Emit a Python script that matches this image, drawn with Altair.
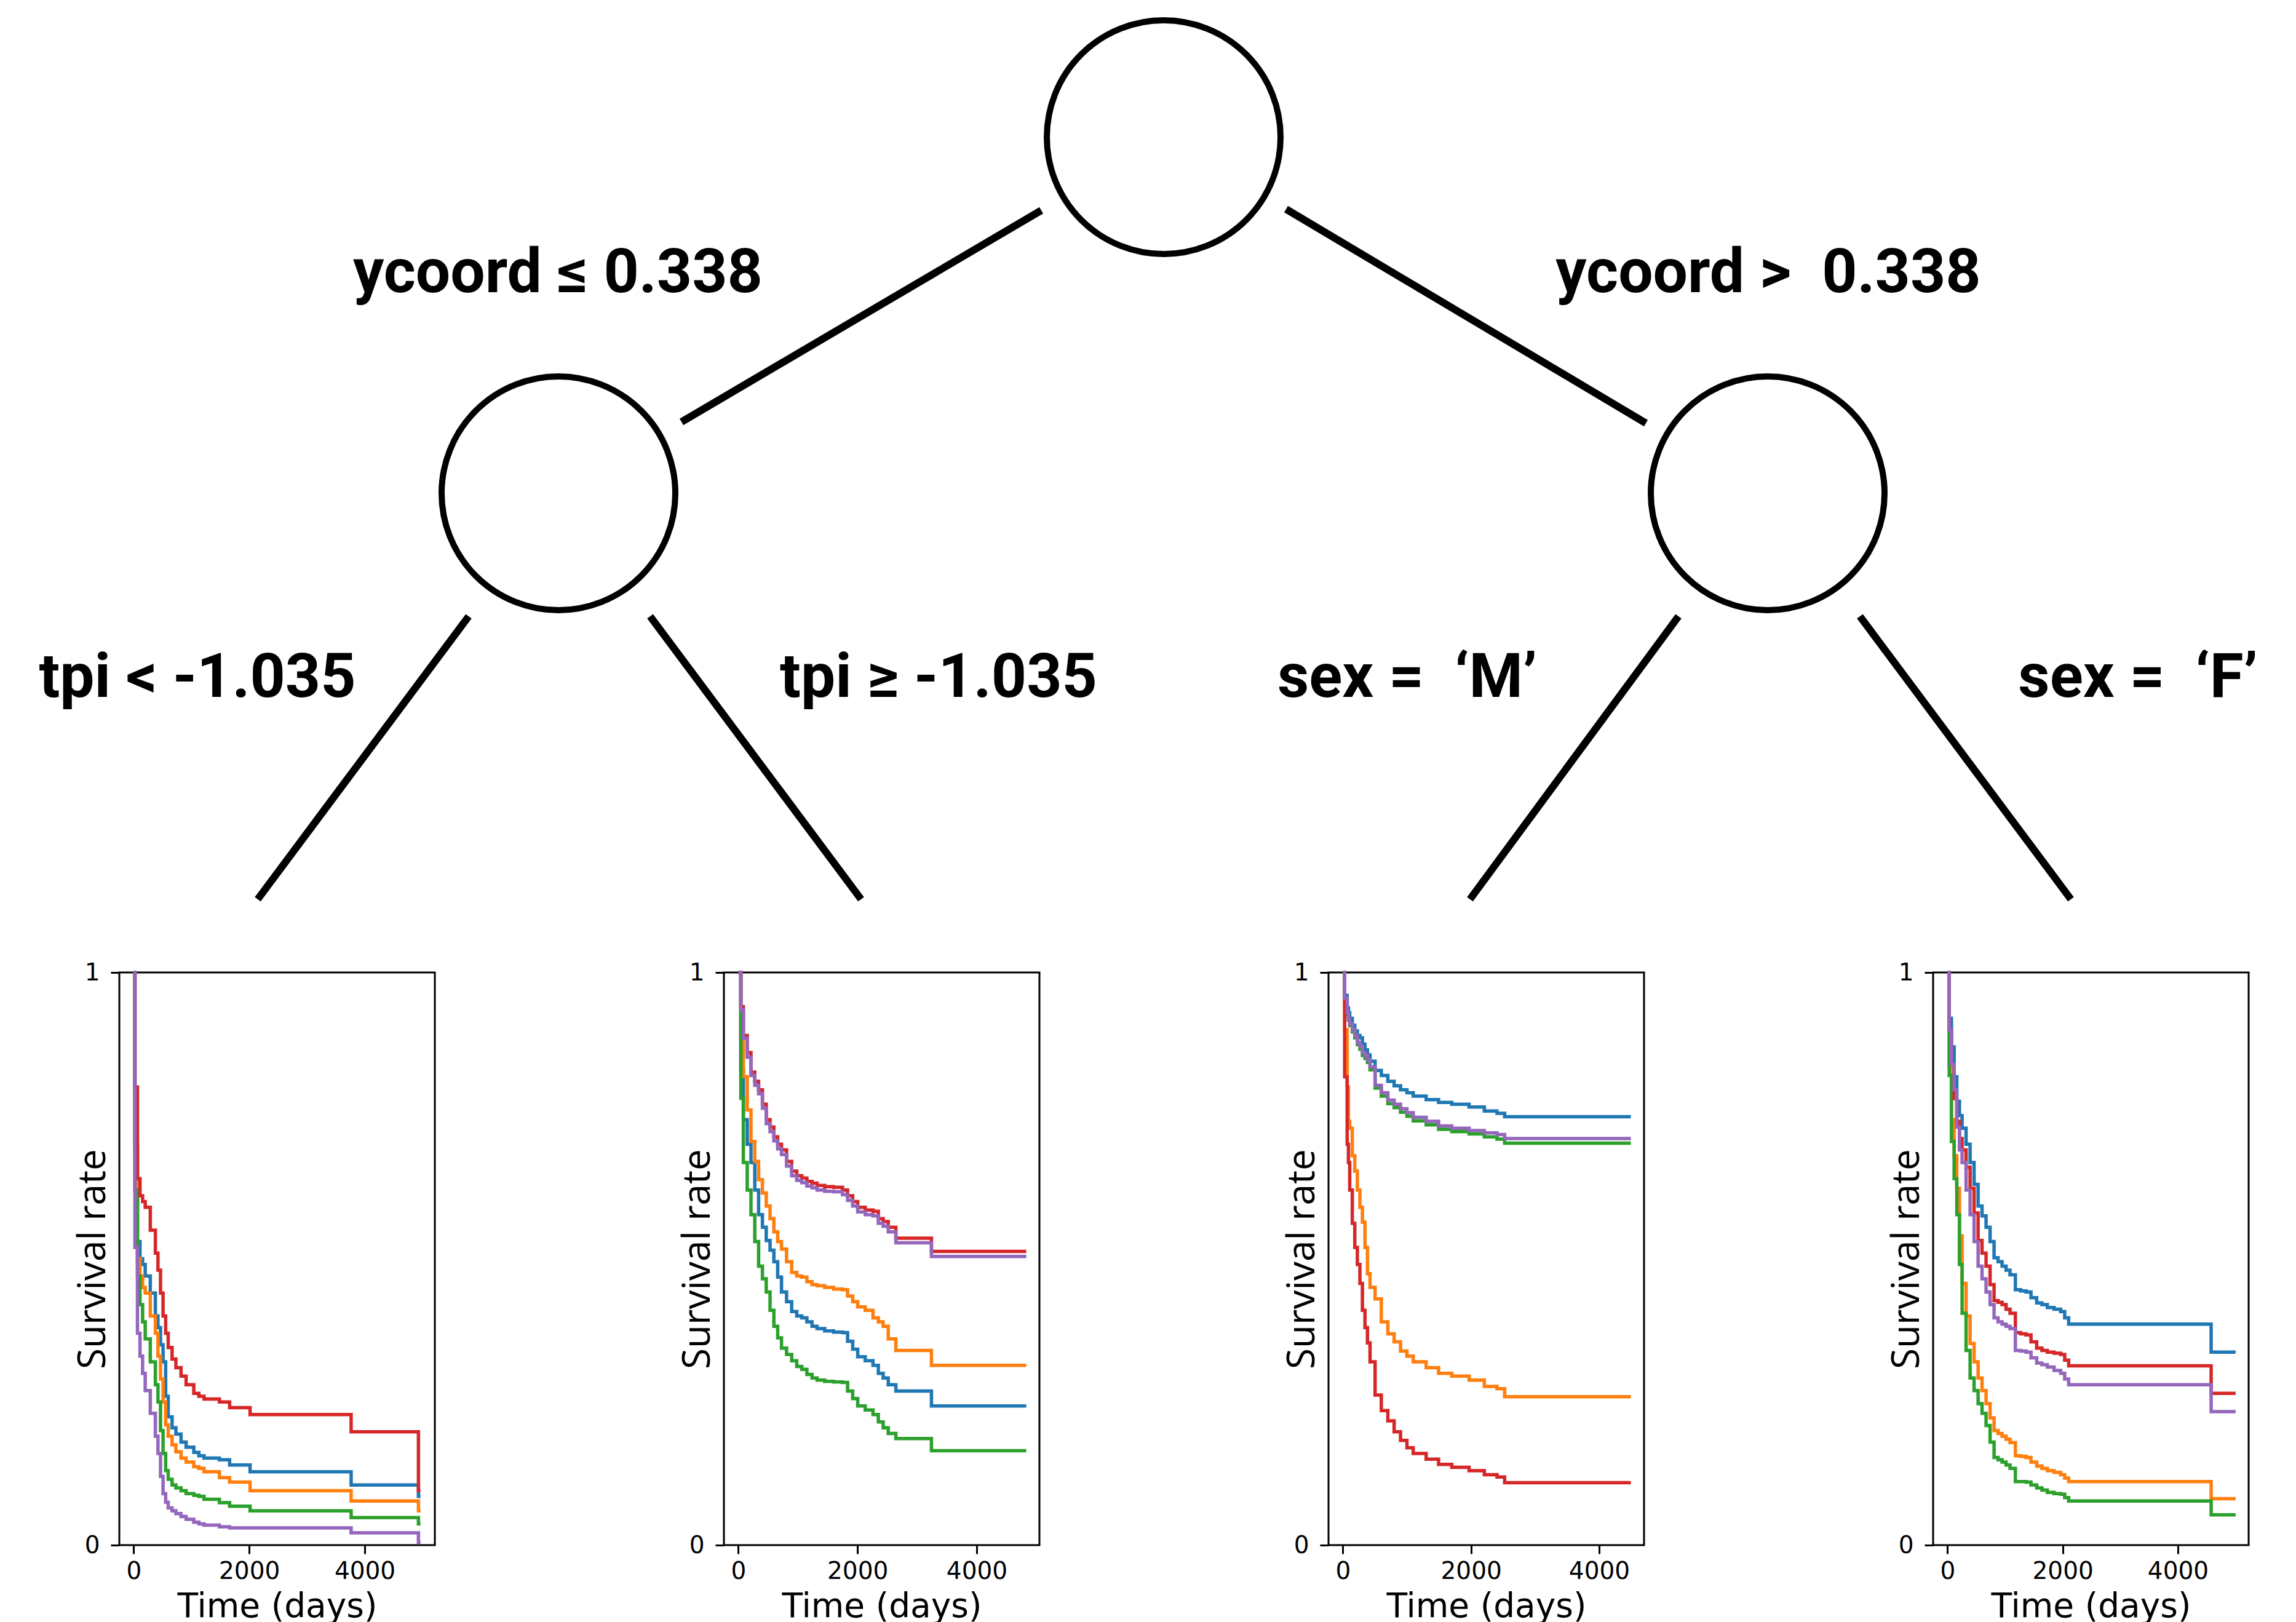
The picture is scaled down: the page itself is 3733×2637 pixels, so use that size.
import altair as alt
import pandas as pd

# ---------------- tree diagram (positions in figure pixel space) ----------------
node_x = [1892, 908, 2874]
node_y = [223, 802, 802]
edge_x1 = [1693, 2091, 762, 1057, 2729, 3024]
edge_y1 = [342, 340, 1002, 1002, 1002, 1002]
edge_x2 = [1108, 2676, 419, 1400, 2390, 3367]
edge_y2 = [686, 688, 1462, 1462, 1462, 1462]
label_text = ["ycoord ≤ 0.338", "ycoord > \u00a00.338", "tpi < -1.035",
              "tpi ≥ -1.035", "sex = \u00a0‘M’", "sex = \u00a0‘F’"]
label_x = [907, 2875, 321, 1526, 2288, 3476]
label_y = [475, 475, 1133, 1133, 1133, 1133]

# ---------------- survival curves ----------------
SERIES = ["C0", "C1", "C2", "C3", "C4"]
COLORS = ["#1f77b4", "#ff7f0e", "#2ca02c", "#d62728", "#9467bd"]

# plot 1 : tpi < -1.035
p1_t = [0, 22, 66, 110, 155, 200, 288, 376, 421, 465, 509, 554, 598, 665, 731, 820, 908,
        1041, 1129, 1218, 1484, 1661, 2015, 3764, 4929, 4965]
p1_blue = [1.0, 0.70, 0.53, 0.50, 0.49, 0.47, 0.44, 0.40, 0.38, 0.35, 0.32, 0.26, 0.224, 0.205,
           0.194, 0.18, 0.171, 0.162, 0.156, 0.152, 0.149, 0.14, 0.128, 0.105, 0.085, 0.085]
p1_orange = [1.0, 0.68, 0.50, 0.47, 0.45, 0.44, 0.40, 0.37, 0.33, 0.29, 0.25, 0.21, 0.19, 0.175,
             0.163, 0.152, 0.145, 0.137, 0.134, 0.128, 0.118, 0.11, 0.095, 0.077, 0.06, 0.06]
p1_green = [1.0, 0.62, 0.47, 0.42, 0.39, 0.36, 0.32, 0.28, 0.25, 0.20, 0.16, 0.13, 0.115, 0.105,
            0.10, 0.095, 0.09, 0.087, 0.085, 0.08, 0.074, 0.068, 0.060, 0.048, 0.037, 0.037]
p1_red = [1.0, 0.80, 0.64, 0.61, 0.60, 0.59, 0.55, 0.51, 0.48, 0.44, 0.40, 0.37, 0.345, 0.325,
          0.31, 0.295, 0.28, 0.265, 0.26, 0.255, 0.25, 0.24, 0.228, 0.198, 0.095, 0.095]
p1_purple = [1.0, 0.52, 0.37, 0.33, 0.30, 0.27, 0.23, 0.19, 0.16, 0.12, 0.09, 0.075, 0.065, 0.06,
             0.055, 0.05, 0.045, 0.04, 0.037, 0.035, 0.032, 0.03, 0.03, 0.0215, 0.005, 0.005]

# plot 2 : tpi >= -1.035
p2_t = [0, 43, 85, 150, 213, 277, 341, 405, 469, 533, 597, 661, 725, 810, 896, 981, 1066, 1151,
        1237, 1322, 1450, 1600, 1748, 1834, 1920, 2004, 2130, 2260, 2350, 2431, 2516, 2644, 3241, 4832]
p2_blue = [1.0, 0.83, 0.743, 0.70, 0.668, 0.62, 0.577, 0.555, 0.532, 0.515, 0.495, 0.468, 0.442,
           0.425, 0.408, 0.40, 0.397, 0.39, 0.382, 0.378, 0.374, 0.372, 0.371, 0.356, 0.342, 0.329,
           0.322, 0.314, 0.30, 0.292, 0.28, 0.269, 0.243, 0.243]
p2_orange = [1.0, 0.88, 0.818, 0.76, 0.705, 0.67, 0.638, 0.615, 0.592, 0.57, 0.547, 0.53, 0.517,
             0.495, 0.476, 0.47, 0.468, 0.46, 0.455, 0.453, 0.45, 0.447, 0.446, 0.435, 0.425, 0.416,
             0.41, 0.397, 0.39, 0.382, 0.36, 0.34, 0.314, 0.314]
p2_green = [1.0, 0.78, 0.668, 0.62, 0.577, 0.53, 0.487, 0.465, 0.442, 0.41, 0.382, 0.362, 0.344,
            0.333, 0.322, 0.312, 0.307, 0.298, 0.292, 0.288, 0.286, 0.285, 0.284, 0.269, 0.256,
            0.243, 0.236, 0.228, 0.215, 0.205, 0.195, 0.186, 0.165, 0.165]
p2_red = [1.0, 0.94, 0.89, 0.86, 0.826, 0.81, 0.795, 0.77, 0.743, 0.73, 0.713, 0.70, 0.69, 0.67,
          0.653, 0.645, 0.641, 0.635, 0.632, 0.628, 0.626, 0.625, 0.62, 0.61, 0.60, 0.59, 0.585,
          0.583, 0.57, 0.565, 0.555, 0.536, 0.513, 0.513]
p2_purple = [1.0, 0.935, 0.885, 0.852, 0.82, 0.803, 0.788, 0.763, 0.736, 0.722, 0.706, 0.692,
             0.682, 0.662, 0.645, 0.637, 0.633, 0.627, 0.624, 0.62, 0.618, 0.617, 0.612, 0.602,
             0.592, 0.582, 0.577, 0.575, 0.562, 0.557, 0.547, 0.528, 0.504, 0.504]

# plot 3 : sex = 'M'
p3_t = [0, 28, 67, 87, 107, 147, 186, 226, 266, 305, 345, 384, 424, 503, 600, 702, 800, 900,
        1000, 1098, 1300, 1494, 1700, 1970, 2208, 2406, 2525, 4495]
p3_blue = [1.0, 0.96, 0.938, 0.93, 0.92, 0.908, 0.898, 0.89, 0.886, 0.875, 0.865, 0.856, 0.845,
           0.829, 0.82, 0.81, 0.802, 0.795, 0.79, 0.784, 0.778, 0.773, 0.77, 0.765, 0.758, 0.754,
           0.748, 0.748]
p3_orange = [1.0, 0.90, 0.80, 0.74, 0.728, 0.68, 0.653, 0.62, 0.59, 0.564, 0.52, 0.474, 0.45,
             0.43, 0.39, 0.369, 0.355, 0.339, 0.33, 0.32, 0.31, 0.30, 0.295, 0.288, 0.277, 0.273,
             0.259, 0.259]
p3_green = [1.0, 0.953, 0.927, 0.917, 0.907, 0.896, 0.886, 0.874, 0.866, 0.855, 0.85, 0.843,
            0.83, 0.798, 0.784, 0.771, 0.764, 0.756, 0.749, 0.741, 0.734, 0.726, 0.722, 0.718,
            0.713, 0.709, 0.702, 0.702]
p3_red = [1.0, 0.818, 0.70, 0.668, 0.62, 0.562, 0.52, 0.49, 0.457, 0.41, 0.38, 0.353, 0.32,
          0.262, 0.235, 0.217, 0.198, 0.183, 0.17, 0.16, 0.15, 0.141, 0.136, 0.13, 0.123, 0.119,
          0.109, 0.109]
p3_purple = [1.0, 0.955, 0.93, 0.92, 0.91, 0.90, 0.89, 0.878, 0.871, 0.86, 0.855, 0.848, 0.835,
             0.803, 0.79, 0.777, 0.77, 0.762, 0.755, 0.747, 0.74, 0.732, 0.728, 0.724, 0.72,
             0.717, 0.71, 0.71]

# plot 4 : sex = 'F'
p4_t = [0, 30, 69, 116, 162, 208, 254, 323, 393, 462, 532, 600, 670, 740, 809, 878, 948, 1017,
        1086, 1179, 1270, 1364, 1450, 1549, 1640, 1734, 1850, 1965, 2035, 2104, 4577, 5002]
p4_blue = [1.0, 0.92, 0.87, 0.818, 0.775, 0.75, 0.728, 0.70, 0.668, 0.63, 0.592, 0.575, 0.555,
           0.53, 0.502, 0.495, 0.487, 0.48, 0.472, 0.446, 0.444, 0.442, 0.432, 0.423, 0.42, 0.415,
           0.412, 0.408, 0.397, 0.386, 0.337, 0.337]
p4_orange = [1.0, 0.84, 0.743, 0.68, 0.623, 0.54, 0.457, 0.40, 0.352, 0.32, 0.292, 0.27, 0.247,
             0.222, 0.20, 0.195, 0.19, 0.185, 0.179, 0.156, 0.155, 0.153, 0.145, 0.138, 0.134,
             0.13, 0.127, 0.123, 0.117, 0.111, 0.081, 0.081]
p4_green = [1.0, 0.82, 0.705, 0.64, 0.577, 0.49, 0.405, 0.34, 0.292, 0.27, 0.247, 0.23, 0.209,
            0.18, 0.153, 0.149, 0.145, 0.14, 0.134, 0.111, 0.111, 0.11, 0.105, 0.10, 0.096, 0.092,
            0.09, 0.089, 0.083, 0.077, 0.053, 0.053]
p4_red = [1.0, 0.90, 0.84, 0.78, 0.74, 0.71, 0.69, 0.66, 0.623, 0.58, 0.532, 0.51, 0.487, 0.455,
          0.427, 0.424, 0.42, 0.412, 0.405, 0.371, 0.369, 0.367, 0.355, 0.344, 0.34, 0.337, 0.335,
          0.333, 0.323, 0.313, 0.265, 0.265]
p4_purple = [1.0, 0.90, 0.84, 0.795, 0.73, 0.69, 0.668, 0.62, 0.577, 0.53, 0.487, 0.465, 0.442,
             0.42, 0.397, 0.39, 0.386, 0.382, 0.378, 0.34, 0.339, 0.337, 0.327, 0.318, 0.315,
             0.311, 0.305, 0.30, 0.29, 0.28, 0.233, 0.233]

x_domains = [[-248, 5213], [-241, 5053], [-224, 4701], [-249, 5228]]
x_ticks = [0, 2000, 4000]
y_ticks = [0, 1]

# ---------------- layout constants ----------------
TREE_W, TREE_H = 3717, 1553
PLOT_W, PLOT_H = 513, 931

xs = alt.Scale(domain=[8, 8 + TREE_W], nice=False, zero=False)
ys = alt.Scale(domain=[8, 8 + TREE_H], nice=False, zero=False, reverse=True)

edges_df = pd.DataFrame({"x1": edge_x1, "y1": edge_y1, "x2": edge_x2, "y2": edge_y2})
nodes_df = pd.DataFrame({"x": node_x, "y": node_y})
labels_df = pd.DataFrame({"x": label_x, "y": label_y, "t": label_text})

edges = alt.Chart(edges_df).mark_rule(color="black", strokeWidth=12).encode(
    x=alt.X("x1:Q", scale=xs, axis=None),
    y=alt.Y("y1:Q", scale=ys, axis=None),
    x2="x2:Q", y2="y2:Q",
)
nodes = alt.Chart(nodes_df).mark_point(
    shape="circle", filled=False, size=144400, strokeWidth=10, color="black", opacity=1
).encode(
    x=alt.X("x:Q", scale=xs, axis=None),
    y=alt.Y("y:Q", scale=ys, axis=None),
)
labels = alt.Chart(labels_df).mark_text(
    font="Roboto", fontSize=100, fontWeight="bold", align="center",
    baseline="alphabetic", color="black"
).encode(
    x=alt.X("x:Q", scale=xs, axis=None),
    y=alt.Y("y:Q", scale=ys, axis=None),
    text="t:N",
)
tree = alt.layer(edges, nodes, labels).properties(
    width=TREE_W, height=TREE_H, view=alt.ViewBackground(strokeOpacity=0)
)


def km_chart(times, series_vals, domain):
    rows = []
    for s, vals in zip(SERIES, series_vals):
        for t, v in zip(times, vals):
            rows.append({"t": t, "v": v, "s": s})
    df = pd.DataFrame(rows)
    return alt.Chart(df).mark_line(interpolate="step-after", strokeWidth=5.5).encode(
        x=alt.X("t:Q", scale=alt.Scale(domain=domain, nice=False, zero=False),
                axis=alt.Axis(title="Time (days)", values=x_ticks, format="d", grid=False,
                              domain=False, tickSize=14, tickWidth=3, tickColor="black",
                              labelFont="DejaVu Sans", labelFontSize=39, labelColor="black",
                              labelBaseline="alphabetic", labelPadding=40, labelFlush=False,
                              titleFont="DejaVu Sans", titleFontSize=55,
                              titleFontWeight="normal", titleColor="black",
                              titleBaseline="alphabetic", titleY=116)),
        y=alt.Y("v:Q", scale=alt.Scale(domain=[0, 1], nice=False, zero=False),
                axis=alt.Axis(title="Survival rate", values=y_ticks, format="d", grid=False,
                              domain=False, tickSize=14, tickWidth=3, tickColor="black",
                              labelFont="DejaVu Sans", labelFontSize=39, labelColor="black",
                              labelPadding=18, labelFlush=False,
                              titleFont="Open Sans", titleFontSize=62,
                              titleFontWeight="normal", titleColor="black",
                              titleBaseline="alphabetic", titleAngle=270,
                              titleX=-24, titleY=PLOT_H / 2)),
        color=alt.Color("s:N", scale=alt.Scale(domain=SERIES, range=COLORS), legend=None),
    ).properties(width=PLOT_W, height=PLOT_H,
                 view=alt.ViewBackground(stroke="black", strokeWidth=3))


p1 = km_chart(p1_t, [p1_blue, p1_orange, p1_green, p1_red, p1_purple], x_domains[0])
p2 = km_chart(p2_t, [p2_blue, p2_orange, p2_green, p2_red, p2_purple], x_domains[1])
p3 = km_chart(p3_t, [p3_blue, p3_orange, p3_green, p3_red, p3_purple], x_domains[2])
p4 = km_chart(p4_t, [p4_blue, p4_orange, p4_green, p4_red, p4_purple], x_domains[3])

spacer = alt.Chart(pd.DataFrame({"v": [0]})).mark_point(opacity=0).encode(
    x=alt.X("v:Q", axis=None), y=alt.Y("v:Q", axis=None)
).properties(width=186, height=PLOT_H, view=alt.ViewBackground(strokeOpacity=0))

plots = alt.hconcat(p1, p2, p3, p4, spacing=470, bounds="flush")
row = alt.hconcat(spacer, plots, spacing=0, bounds="flush")

chart = alt.vconcat(tree, row, spacing=20, bounds="flush").properties(
    padding=0, background="white"
)

chart.save("out.html", embed_options={"renderer": "svg", "actions": False})
